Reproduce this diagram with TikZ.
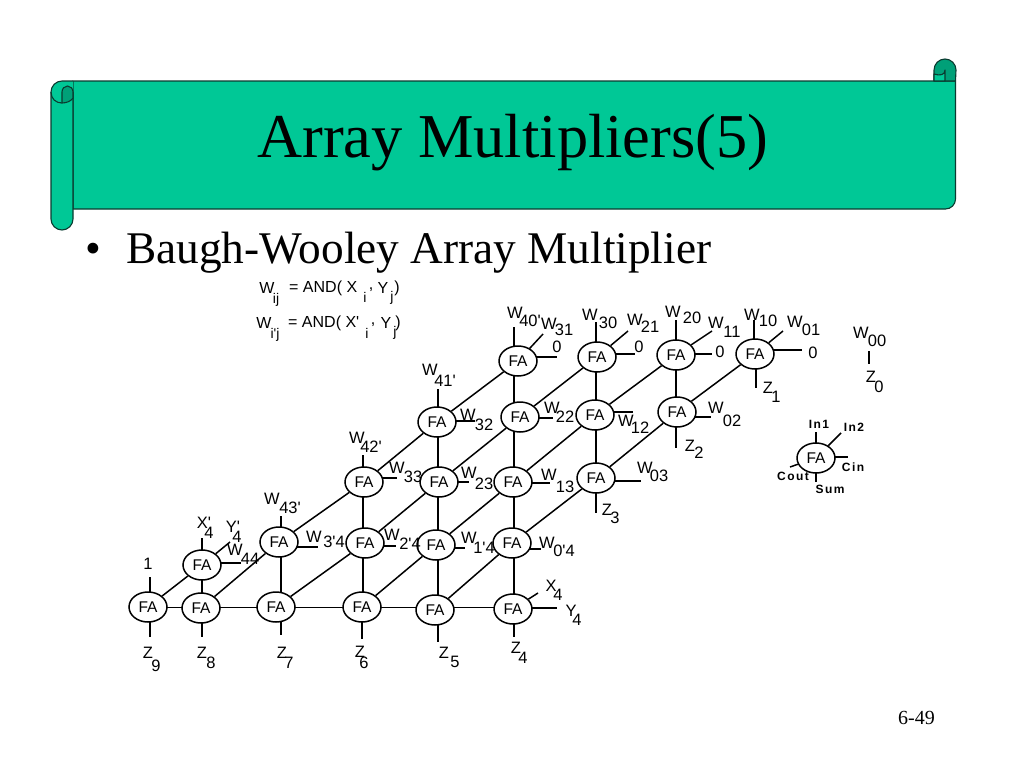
\documentclass[tikz,border=0pt]{standalone}
\usepackage{fontspec}
\setmainfont{Liberation Serif}
\newfontfamily\arialf{Liberation Sans}
\usetikzlibrary{shapes.geometric,backgrounds}
\definecolor{scroll}{HTML}{00C896}
\definecolor{fold}{HTML}{00A078}
\definecolor{edgeg}{HTML}{0B3B30}
\tikzset{
  fa/.style={draw=black,ellipse,minimum width=38pt,minimum height=30pt,inner sep=0pt,line width=1.5pt,fill=white,font=\arialf\fontsize{15.5}{15.5}\selectfont},
  wire/.style={draw=black,line width=1.5pt},
  lbl/.style={inner sep=0pt,font=\arialf\fontsize{16.5}{16.5}\selectfont},
  fml/.style={inner sep=0pt,font=\arialf\fontsize{16}{16}\selectfont},
  fms/.style={inner sep=0pt,font=\arialf\fontsize{14}{14}\selectfont},
  leg/.style={inner sep=0pt,font=\arialf\bfseries\fontsize{12}{12}\selectfont},
  scr/.style={draw=edgeg,line width=1.1pt,line join=round}
}
% free end of a stub: straight line from the node to the named coordinate
\newcommand{\stubw}[3]{\coordinate (#1) at (#3); \draw[wire] (#2) -- (#1);}
% vertical stub at the x of its end point
\newcommand{\vstub}[3]{\coordinate (#1) at (#3); \draw[wire] (#2 -| #1) -- (#1);}
% horizontal stub at the y of its end point
\newcommand{\hstub}[3]{\coordinate (#1) at (#3); \draw[wire] (#2 |- #1) -- (#1);}
% vertical connector between two nodes along a named column
\newcommand{\vcon}[3]{\draw[wire] (#1 -| #3) -- (#2 -| #3);}
\newcommand{\spaced}[1]{\addfontfeatures{LetterSpace=12}#1}
\begin{document}
\begin{tikzpicture}[x=1pt,y=-1pt]
\useasboundingbox (0,0) rectangle (1024,768);
% scroll banner
\draw[scr,fill=scroll] (73,81) -- (955.5,81) -- (955.5,199) arc (0:90:10) -- (73,209) -- cycle;
\draw[scr,fill=fold] (934,81) -- (934,70) arc (180:360:11) -- (955.5,81) -- cycle;
\draw[scr,fill=scroll] (934,81) -- (934,74) .. controls (940,76) and (945,75) .. (945,70) -- (945,81) -- cycle;
\fill[scroll] (51,92) arc (180:270:11) -- (73,81) -- (73,219) arc (0:180:11) -- cycle;
\draw[scr] (73,81) -- (62,81) arc (270:180:11) -- (51,219) arc (180:0:11) -- (73,92);
\draw[scr,fill=fold] (62,103) -- (62,92) arc (180:360:5.5 and 6) -- (73,98) .. controls (71,101) and (67,103) .. (62,103) -- cycle;
\draw[scr] (51,92) .. controls (51,99) and (56,103) .. (62,103);
% texts
\node[anchor=base west,inner sep=0pt,font=\fontsize{62.4}{62}\selectfont] (title) at (257,157) {Array Multipliers(5)};
\node[anchor=base west,inner sep=0pt,font=\fontsize{45}{45}\selectfont] (bul) at (85,263) {•};
\node[anchor=base west,inner sep=0pt,font=\fontsize{45.3}{45}\selectfont] (head) at (126,263) {Baugh-Wooley Array Multiplier};
\node[anchor=base west,inner sep=0pt,font=\fontsize{20}{20}\selectfont] (page) at (898,724) {6-49};
% formulas
\node[fml] (f1) at (267,288) {W};
\node[fms] (f2) at (276,300) {ij};
\node[fml,anchor=west] (f3) at (289,288) {= AND( X};
\node[fms] (f4) at (365,297) {i};
\node[fml] (f5) at (371,290) {,};
\node[fml] (f6) at (383,288) {Y};
\node[fms] (f7) at (392,298) {j};
\node[fml] (f8) at (397,288) {)};
\node[fml] (g1) at (264,323) {W};
\node[fms] (g2) at (275,335) {i'j};
\node[fml,anchor=west] (g3) at (288,323) {= AND( X'};
\node[fms] (g4) at (367,333) {i};
\node[fml] (g5) at (373,325) {,};
\node[fml] (g6) at (386,323) {Y};
\node[fms] (g7) at (395,333) {j};
\node[fml] (g8) at (398,323) {)};
% FA nodes
\node[fa] (n40) at (518,361) {FA};
\node[fa] (n30) at (597,357) {FA};
\node[fa] (n20) at (676,355) {FA};
\node[fa] (n10) at (755,354) {FA};
\node[fa] (n41) at (437,422) {FA};
\node[fa] (n31) at (520,417) {FA};
\node[fa] (n21) at (595,415) {FA};
\node[fa] (n02) at (677,412) {FA};
\node[fa] (n42) at (364,482) {FA};
\node[fa] (n32) at (439,482) {FA};
\node[fa] (n22) at (513,482) {FA};
\node[fa] (n12) at (596,478) {FA};
\node[fa] (n43) at (279,542) {FA};
\node[fa] (n33) at (365,543) {FA};
\node[fa] (n23) at (436,545) {FA};
\node[fa] (n13) at (512,543) {FA};
\node[fa] (n44) at (202,565) {FA};
\node[fa] (b9) at (148,607) {FA};
\node[fa] (b8) at (201,608) {FA};
\node[fa] (b7) at (276,607) {FA};
\node[fa] (b6) at (362,607) {FA};
\node[fa] (b5) at (435,610) {FA};
\node[fa] (b4) at (513,609) {FA};
\node[fa] (leg) at (816,458) {FA};
\begin{scope}[on background layer]
% column and row guides
\coordinate (c1) at (514,0); \coordinate (c2) at (596,0); \coordinate (c3) at (676,0);
\coordinate (c4) at (438,0); \coordinate (c5) at (363,0); \coordinate (c6) at (281,0); \coordinate (c7) at (202,0);
\coordinate (r1) at (0,607.5);
% diagonals
\draw[wire] (n40) -- (n41); \draw[wire] (n41) -- (n42); \draw[wire] (n42) -- (n43); \draw[wire] (n43) -- (b8);
\draw[wire] (n44) -- (b9);
\draw[wire] (n30) -- (n31); \draw[wire] (n31) -- (n32); \draw[wire] (n32) -- (n33); \draw[wire] (n33) -- (b7);
\draw[wire] (n20) -- (n21); \draw[wire] (n21) -- (n22); \draw[wire] (n22) -- (n23); \draw[wire] (n23) -- (b6);
\draw[wire] (n10) -- (n02); \draw[wire] (n02) -- (n12); \draw[wire] (n12) -- (n13); \draw[wire] (n13) -- (b5);
% verticals
\vcon{n40}{n31}{c1} \vcon{n31}{n22}{c1} \vcon{n22}{n13}{c1} \vcon{n13}{b4}{c1}
\vcon{n30}{n21}{c2} \vcon{n21}{n12}{c2}
\vcon{n20}{n02}{c3}
\vcon{n41}{n32}{c4} \vcon{n32}{n23}{c4} \vcon{n23}{b5}{c4}
\vcon{n42}{n33}{c5} \vcon{n33}{b6}{c5}
\vcon{n43}{b7}{c6}
\vcon{n44}{b8}{c7}
% bottom row
\draw[wire] (b9 |- r1) -- (b8 |- r1); \draw[wire] (b8 |- r1) -- (b7 |- r1); \draw[wire] (b7 |- r1) -- (b6 |- r1); \draw[wire] (b6 |- r1) -- (b5 |- r1); \draw[wire] (b5 |- r1) -- (b4 |- r1);
% stubs
\vstub{a1}{n40}{514,327} \stubw{a2}{n40}{543,334} \hstub{a3}{n40}{557,357}
\vstub{a4}{n30}{596,322} \stubw{a5}{n30}{628,331} \hstub{a6}{n30}{635,354}
\vstub{a7}{n20}{676,320} \stubw{a8}{n20}{712,331} \hstub{a9}{n20}{712,354}
\vstub{a10}{n10}{754,320} \stubw{a11}{n10}{783,331} \hstub{a12}{n10}{802,350} \vstub{a13}{n10}{756,388}
\vstub{a14}{n41}{438,389} \hstub{a15}{n41}{475,421}
\hstub{a16}{n31}{553,418}
\hstub{a17}{n21}{633,412}
\hstub{a18}{n02}{711,417} \vstub{a19}{n02}{676,448}
\vstub{a20}{n42}{363,455} \hstub{a21}{n42}{397,478}
\hstub{a22}{n32}{469,482}
\hstub{a23}{n22}{550,483}
\hstub{a24}{n12}{641,481} \vstub{a25}{n12}{596,513}
\vstub{a26}{n43}{281,516} \hstub{a27}{n43}{318,547}
\hstub{a28}{n33}{396,546}
\hstub{a29}{n23}{465,548}
\hstub{a30}{n13}{541,549}
\vstub{a31}{n44}{202,538} \stubw{a32}{n44}{230,542} \hstub{a33}{n44}{241,563}
\vstub{a34}{b9}{150,577} \vstub{a35}{b9}{150,637}
\vstub{a36}{b8}{202,637}
\vstub{a37}{b7}{281,635}
\vstub{a38}{b6}{362,639}
\vstub{a39}{b5}{438,642}
\vstub{a40}{b4}{514,637} \stubw{a41}{b4}{538,593} \hstub{a42}{b4}{557,608}
\vstub{a43}{leg}{816,432} \stubw{a44}{leg}{841,433} \hstub{a45}{leg}{848,457} \vstub{a46}{leg}{816,482} \stubw{a47}{leg}{790,467}
\coordinate (z0a) at (869,351); \coordinate (z0b) at (869,364); \draw[wire] (z0a) -- (z0b);
\end{scope}
% labels
\node[lbl] (lw40) at (515,313) {W}; \node[lbl] (sw40) at (530,321) {40'};
\node[lbl] (lw31) at (549,324) {W}; \node[lbl] (sw31) at (564,330) {31};
\node[lbl] (lw30) at (590,315) {W}; \node[lbl] (sw30) at (608,323) {30};
\node[lbl] (lw21) at (635,320) {W}; \node[lbl] (sw21) at (650,327) {21};
\node[lbl] (lw20) at (673,312) {W}; \node[lbl] (sw20) at (692,318) {20};
\node[lbl] (lw11) at (716,323) {W}; \node[lbl] (sw11) at (732,332) {11};
\node[lbl] (lw10) at (752,315) {W}; \node[lbl] (sw10) at (768,321) {10};
\node[lbl] (lw01) at (795,322) {W}; \node[lbl] (sw01) at (811,330) {01};
\node[lbl] (lw00) at (861,333) {W}; \node[lbl] (sw00) at (877,341) {00};
\node[lbl] (lz0) at (871,377) {Z}; \node[lbl] (sz0) at (879,387) {0};
\node[lbl] (o1) at (557,347) {0}; \node[lbl] (o2) at (639,347) {0}; \node[lbl] (o3) at (720,352) {0}; \node[lbl] (o4) at (813,353) {0};
\node[lbl] (lz1) at (768,388) {Z}; \node[lbl] (sz1) at (776,397) {1};
\node[lbl] (lw22) at (552,408) {W}; \node[lbl] (sw22) at (565,417) {22};
\node[lbl] (lw12) at (626,421) {W}; \node[lbl] (sw12) at (640,428) {12};
\node[lbl] (lw02) at (716,408) {W}; \node[lbl] (sw02) at (732,421) {02};
\node[lbl] (lz2) at (690,446) {Z}; \node[lbl] (sz2) at (699,453) {2};
\node[lbl] (lw03) at (645,468) {W}; \node[lbl] (sw03) at (659,476) {03};
\node[lbl] (lw13) at (549,475) {W}; \node[lbl] (sw13) at (565,487) {13};
\node[lbl] (lz3) at (607,510) {Z}; \node[lbl] (sz3) at (615,518) {3};
\node[lbl] (lw41) at (430,370) {W}; \node[lbl] (sw41) at (445,381) {41'};
\node[lbl] (lw32) at (468,415) {W}; \node[lbl] (sw32) at (484,425) {32};
\node[lbl] (lw42) at (357,438) {W}; \node[lbl] (sw42) at (371,447) {42'};
\node[lbl] (lw33) at (397,468) {W}; \node[lbl] (sw33) at (413,477) {33};
\node[lbl] (lw23) at (469,473) {W}; \node[lbl] (sw23) at (484,484) {23};
\node[lbl] (lw24) at (392,535) {W}; \node[lbl] (sw24) at (410,544) {2'4};
\node[lbl] (lw14) at (469,538) {W}; \node[lbl] (sw14) at (484,548) {1'4};
\node[lbl] (lw04) at (547,543) {W}; \node[lbl] (sw04) at (564,551) {0'4};
\node[lbl] (lx4) at (551,586) {X}; \node[lbl] (sx4) at (558,595) {4};
\node[lbl] (ly4) at (571,611) {Y}; \node[lbl] (sy4) at (577,620) {4};
\node[lbl] (lz4) at (516,648) {Z}; \node[lbl] (sz4) at (523,658) {4};
\node[lbl] (lz5) at (444,653) {Z}; \node[lbl] (sz5) at (455,662) {5};
\node[lbl] (lz6) at (360,652) {Z}; \node[lbl] (sz6) at (364,663) {6};
\node[lbl] (lw43) at (272,499) {W}; \node[lbl] (sw43) at (290,508) {43'};
\node[lbl] (lw34) at (314,537) {W}; \node[lbl] (sw34) at (334,542) {3'4};
\node[lbl] (lxp) at (204,523) {X'}; \node[lbl] (sxp) at (209,533) {4};
\node[lbl] (lyp) at (233,527) {Y'}; \node[lbl] (syp) at (237,537) {4};
\node[lbl] (lw44) at (235,550) {W}; \node[lbl] (sw44) at (250,559) {44};
\node[lbl] (one) at (148,564) {1};
\node[lbl] (lz9) at (148,653) {Z}; \node[lbl] (sz9) at (156,666) {9};
\node[lbl] (lz8) at (202,653) {Z}; \node[lbl] (sz8) at (211,663) {8};
\node[lbl] (lz7) at (282,653) {Z}; \node[lbl] (sz7) at (289,663) {7};
% legend
\node[leg] (li1) at (819,424) {\spaced{In1}};
\node[leg] (li2) at (854,427) {\spaced{In2}};
\node[leg] (lci) at (853,467) {\spaced{Cin}};
\node[leg] (lco) at (793,476) {\spaced{Cout}};
\node[leg] (lsu) at (830,489) {\spaced{Sum}};
\end{tikzpicture}
\end{document}
